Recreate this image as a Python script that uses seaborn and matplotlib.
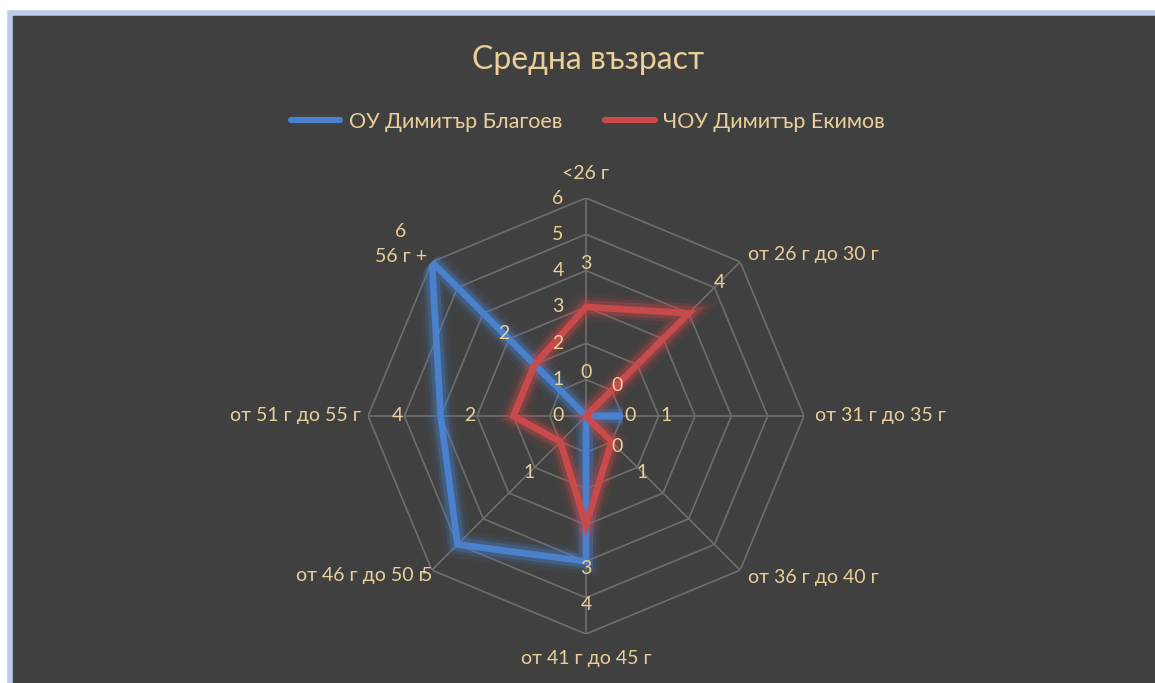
import numpy as np
import matplotlib
matplotlib.use('Agg')
import matplotlib.pyplot as plt
from matplotlib.patches import Rectangle
from matplotlib.lines import Line2D
import seaborn as sns

categories = ['<26 г', 'от 26 г до 30 г', 'от 31 г до 35 г', 'от 36 г до 40 г',
              'от 41 г до 45 г', 'от 46 г до 50 г', 'от 51 г до 55 г', '56 г +']
blagoev = [0, 0, 1, 0, 4, 5, 4, 6]
ekimov = [3, 4, 0, 1, 3, 1, 2, 2]
series_names = ['ОУ Димитър Благоев', 'ЧОУ Димитър Екимов']
ticks = [0, 1, 2, 3, 4, 5, 6]

BG = '#404040'
TXT = '#EBCF98'
GRID = '#6E6E6E'
BLUE = '#4A80CC'
RED = '#C94A4A'

sns.set_theme(style='dark')
plt.rcParams['font.family'] = ['Lato', 'DejaVu Sans']

W, H = 1155, 683
fig = plt.figure(figsize=(W / 100, H / 100), dpi=100)
fig.patch.set_facecolor('white')
fig.add_artist(Rectangle((10 / W, -0.01), 1, (H - 13) / H + 0.01, transform=fig.transFigure,
                         facecolor=BG, edgecolor='#B9CDEB', lw=4, zorder=0))

# radar area: center and radius in pixels
cx, cy, R = 586, 416, 218
ax = fig.add_axes([(cx - R) / W, (H - cy - R) / H, 2 * R / W, 2 * R / H], projection='polar')
ax.set_theta_offset(np.pi / 2)
ax.set_theta_direction(-1)
ax.set_axis_off()
ax.set_ylim(0, 6)

angles = np.arange(len(categories)) * 2 * np.pi / len(categories)
closed = np.append(angles, angles[0])

# octagon grid
for t in ticks[1:]:
    ax.plot(closed, [t] * len(closed), color=GRID, lw=1.2, zorder=1)
for a in angles:
    ax.plot([a, a], [0, ticks[-1]], color=GRID, lw=1.2, zorder=1)

# series with glow
for vals, color in [(blagoev, BLUE), (ekimov, RED)]:
    r = np.append(vals, vals[0])
    for lw, alpha in [(20, 0.08), (14, 0.16), (10, 0.3)]:
        ax.plot(closed, r, color=color, lw=lw, alpha=alpha, solid_joinstyle='miter', zorder=2)
    sns.lineplot(x=closed, y=r, sort=False, estimator=None, ax=ax, color=color, lw=4.8,
                 solid_joinstyle='miter', zorder=3)

# data labels
for vals in [blagoev, ekimov]:
    for a, v in zip(angles, vals):
        ax.text(a, v + 1.2, str(v), ha='center', va='center', color=TXT, fontsize=14, zorder=4)

# axis value labels
for t in ticks:
    ax.annotate(str(t), (0, t), xytext=(-28, 0), textcoords='offset pixels',
                ha='center', va='center', color=TXT, fontsize=14)

# category labels
cat_pos = [(6.45, 'center', 'bottom'), (6.3, 'left', 'center'), (6.3, 'left', 'center'),
           (6.3, 'left', 'center'), (6.45, 'center', 'top'), (6.2, 'right', 'center'),
           (6.2, 'right', 'center'), (6.2, 'right', 'center')]
for a, lab, (rr, ha, va) in zip(angles, categories, cat_pos):
    ax.text(a, rr, lab, ha=ha, va=va, color=TXT, fontsize=14, zorder=4)

fig.text(0.509, 1 - 60 / H, 'Средна възраст', ha='center', va='center', fontsize=23, color=TXT)

handles = [Line2D([], [], color=BLUE, lw=4.5, solid_capstyle='round'),
           Line2D([], [], color=RED, lw=4.5, solid_capstyle='round')]
fig.legend(handles, series_names, loc='center', bbox_to_anchor=(0.509, 1 - 122 / H), ncol=2,
           frameon=False, handlelength=2.3, handletextpad=0.4, columnspacing=2.0,
           labelcolor=TXT, fontsize=15.5)

fig.savefig('out.png', dpi=100, facecolor=fig.get_facecolor())
